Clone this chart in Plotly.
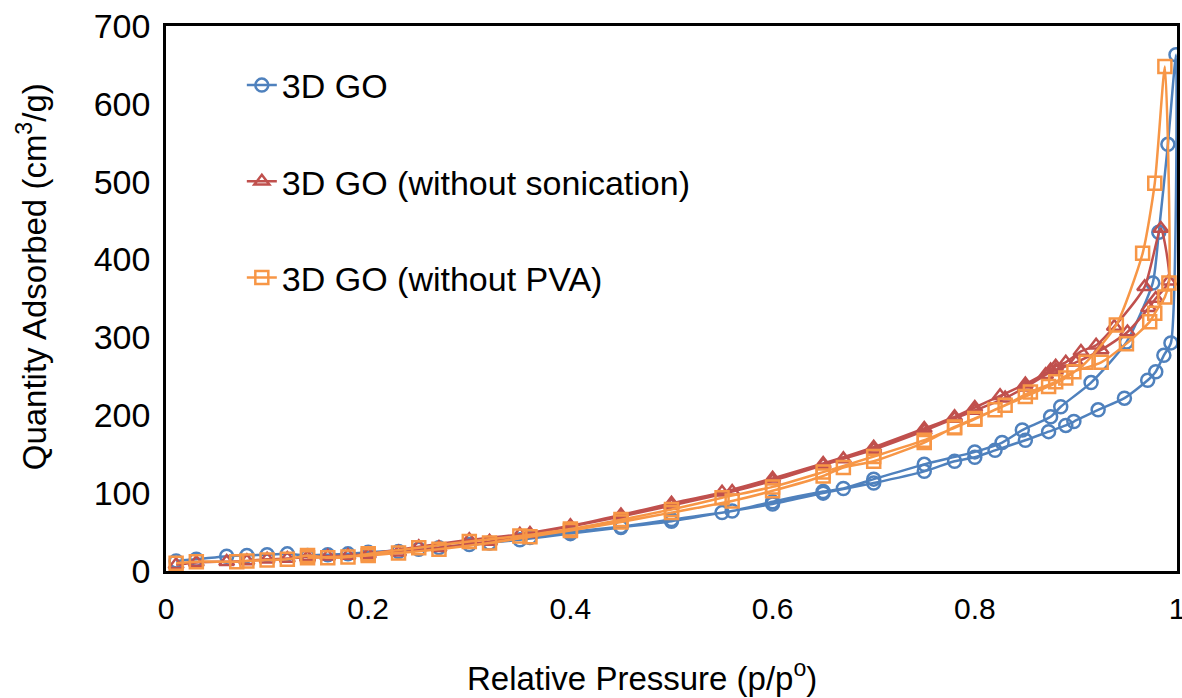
import plotly.graph_objects as go

# ---------------- data ----------------
# 3D GO
go_ads_p = [0.01, 0.03, 0.06, 0.08, 0.10, 0.12, 0.14, 0.16, 0.18, 0.20, 0.25, 0.30, 0.35, 0.40, 0.45,
            0.50, 0.55, 0.60, 0.65, 0.70, 0.75, 0.78, 0.80, 0.82, 0.85, 0.873, 0.89, 0.898, 0.922, 0.948,
            0.971, 0.979, 0.987, 0.994, 0.999]
go_ads_q = [13, 15, 19, 20, 21, 22, 20, 21, 22, 24, 28, 34, 40, 48, 56,
            64, 75, 86, 100, 113, 128, 141, 146, 155, 168, 179, 187, 192, 207, 222,
            245, 256, 277, 293, 663]
go_des_p = [0.991, 0.982, 0.976, 0.95, 0.915, 0.885, 0.875, 0.847, 0.827, 0.80, 0.75, 0.70, 0.67, 0.65,
            0.60, 0.56, 0.50, 0.45, 0.40, 0.36, 0.32, 0.27, 0.23, 0.20, 0.14]
go_des_q = [548, 435, 370, 294, 242, 211, 198, 181, 165, 153, 137, 118, 106, 102,
            89, 77, 66, 57, 50, 43, 36, 30, 25, 22, 19]

# 3D GO (without sonication)
ns_ads_p = [0.01, 0.03, 0.06, 0.08, 0.10, 0.12, 0.14, 0.16, 0.18, 0.20, 0.25, 0.30, 0.35, 0.40, 0.45,
            0.50, 0.55, 0.60, 0.65, 0.70, 0.75, 0.78, 0.80, 0.825, 0.85, 0.875, 0.88, 0.89, 0.905, 0.92,
            0.938, 0.968, 0.984]
ns_ads_q = [8, 11, 12, 13, 15, 16, 18, 19, 20, 22, 31, 40, 47, 58, 72,
            87, 101, 119, 138, 159, 183, 198, 210, 225, 240, 258, 263, 268, 282, 290,
            314, 365, 440]
ns_des_p = [0.992, 0.979, 0.972, 0.951, 0.925, 0.90, 0.88, 0.87, 0.85, 0.83, 0.80, 0.78, 0.75, 0.70,
            0.67, 0.65, 0.60, 0.56, 0.50, 0.45, 0.40, 0.36, 0.32, 0.27, 0.23, 0.20, 0.14]
ns_des_q = [372, 350, 338, 307, 284, 268, 258, 252, 236, 222, 206, 196, 180, 156,
            144, 136, 116, 102, 84, 70, 57, 48, 38, 30, 24, 21, 17]

# 3D GO (without PVA)
np_ads_p = [0.01, 0.03, 0.07, 0.08, 0.10, 0.12, 0.14, 0.16, 0.18, 0.20, 0.25, 0.30, 0.35, 0.40, 0.45,
            0.50, 0.55, 0.60, 0.65, 0.70, 0.75, 0.78, 0.80, 0.82, 0.85, 0.873, 0.89, 0.91, 0.94, 0.966,
            0.978, 0.988]
np_ads_q = [10, 12, 12, 13, 14, 15, 20, 17, 18, 22, 30, 38, 45, 54, 66,
            79, 94, 108, 127, 147, 168, 184, 195, 207, 224, 237, 248, 268, 316, 408,
            498, 648]
np_des_p = [0.992, 0.988, 0.978, 0.973, 0.95, 0.925, 0.898, 0.88, 0.855, 0.83, 0.80, 0.78, 0.75, 0.70,
            0.67, 0.65, 0.60, 0.56, 0.50, 0.45, 0.40, 0.36, 0.32, 0.27, 0.23, 0.20, 0.14]
np_des_q = [370, 352, 331, 320, 292, 268, 256, 243, 230, 213, 196, 185, 165, 141,
            133, 122, 103, 90, 75, 63, 52, 44, 36, 28, 23, 20, 17]

names = ["3D GO", "3D GO (without sonication)", "3D GO (without PVA)"]
colors = ["#4F81BD", "#C0504D", "#F79646"]
symbols = ["circle-open", "triangle-up-open", "square-open"]
x_title = "Relative Pressure (p/p<sup>o</sup>)"
y_title = "Quantity Adsorbed (cm<sup>3</sup>/g)"

series = [
    (go_ads_p + go_des_p, go_ads_q + go_des_q),
    (ns_ads_p + ns_des_p, ns_ads_q + ns_des_q),
    (np_ads_p + np_des_p, np_ads_q + np_des_q),
]

fig = go.Figure()
for i, (px, py) in enumerate(series):
    fig.add_trace(go.Scatter(
        x=px, y=py, name=names[i], legendgroup=f"g{i}",
        mode="lines+markers",
        line=dict(color=colors[i], width=2.5, shape="spline", smoothing=0.6),
        marker=dict(symbol=symbols[i], size=13, color=colors[i],
                    line=dict(color=colors[i], width=2.5)),
    ))

axis_line = dict(showline=True, linecolor="black", linewidth=2.5, mirror=True,
                 showgrid=False, zeroline=False, ticks="")

fig.update_layout(
    width=1182, height=698,
    paper_bgcolor="white", plot_bgcolor="white",
    margin=dict(l=166, r=5, t=26, b=127, autoexpand=False),
    font=dict(family="Liberation Sans, Arial, sans-serif", color="black"),
    xaxis=dict(range=[0, 1], dtick=0.2, tick0=0,
               tickfont=dict(size=30),
               ticklabelstandoff=9, ticklabeloverflow="allow",
               **axis_line),
    yaxis=dict(range=[0, 700], dtick=100, tick0=0,
               tickfont=dict(size=34),
               ticklabelstandoff=6,
               **axis_line),
    legend=dict(x=0.075, y=0.944, xanchor="left", yanchor="top",
                bgcolor="rgba(0,0,0,0)", font=dict(size=34),
                traceorder="grouped", tracegroupgap=49, itemwidth=30),
    showlegend=True,
    annotations=[
        dict(text=x_title, xref="paper", yref="paper", x=0.471, y=-0.1927,
             xanchor="center", yanchor="middle", showarrow=False, font=dict(size=33)),
        dict(text=y_title, xref="paper", yref="paper", x=-0.1325, y=0.539,
             xanchor="center", yanchor="middle", showarrow=False, textangle=-90,
             font=dict(size=33)),
    ],
)

fig.write_html("out.html", config={"displayModeBar": False},
               post_script="document.body.style.margin='0';")
